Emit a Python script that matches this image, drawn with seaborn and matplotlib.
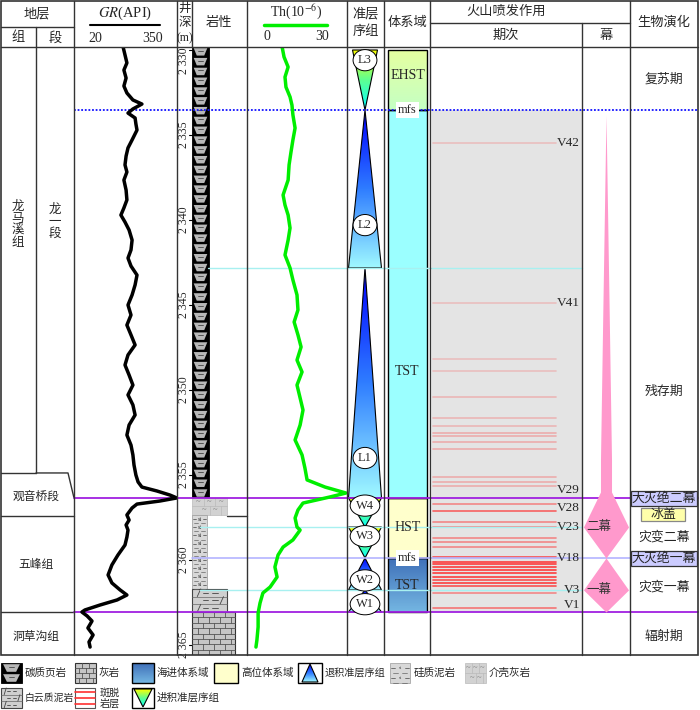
import numpy as np
import matplotlib
matplotlib.use("Agg")
import matplotlib.pyplot as plt
import seaborn as sns
from matplotlib.patches import Polygon, Rectangle
from matplotlib.colors import LinearSegmentedColormap

# ---------------- data ----------------
gr_depth = [2329.82, 2330.29, 2330.76, 2331.18, 2331.65, 2332.12, 2332.53, 2332.94, 2333.18, 2333.47,
            2333.71, 2334.00, 2334.35, 2334.71, 2335.29, 2335.76, 2336.24, 2336.76, 2337.18, 2337.65,
            2338.24, 2338.82, 2339.29, 2339.71, 2340.12, 2340.59, 2341.18, 2341.76, 2342.24, 2342.71,
            2343.24, 2343.82, 2344.41, 2345.00, 2345.59, 2346.18, 2346.76, 2347.35, 2347.94, 2348.53,
            2349.12, 2349.71, 2350.29, 2350.88, 2351.47, 2352.06, 2352.65, 2353.24, 2353.82, 2354.41,
            2355.00, 2355.41, 2355.71, 2355.94, 2356.18, 2356.35, 2356.53, 2356.71, 2356.94, 2357.35,
            2357.65, 2357.94, 2358.24, 2358.65, 2359.12, 2359.71, 2360.29, 2360.88, 2361.35, 2361.76,
            2362.06, 2362.35, 2362.65, 2362.94, 2363.06, 2363.29, 2363.59, 2364.00, 2364.41, 2364.82,
            2365.12]
gr_api = [178, 185, 192, 181, 189, 181, 192, 214, 247, 214,
          196, 222, 225, 229, 211, 196, 189, 185, 192, 181,
          189, 192, 181, 170, 185, 200, 211, 207, 196, 207,
          229, 222, 211, 196, 207, 192, 207, 222, 196, 185,
          200, 214, 196, 214, 222, 200, 192, 207, 214, 218,
          225, 233, 247, 302, 350, 375, 313, 229, 211, 192,
          200, 189, 196, 192, 185, 159, 137, 123, 137, 167,
          192, 156, 93, 38, 27, 46, 64, 49, 68, 53,
          57]

th_depth = [2329.82, 2330.41, 2331.00, 2331.59, 2332.18, 2332.76, 2333.24, 2333.82, 2334.59, 2335.29,
            2336.00, 2336.76, 2337.65, 2338.53, 2339.12, 2339.71, 2340.47, 2341.18, 2342.06, 2342.82,
            2343.53, 2344.41, 2345.29, 2346.00, 2346.76, 2347.47, 2348.24, 2348.94, 2349.71, 2350.47,
            2351.18, 2352.06, 2352.94, 2353.82, 2354.59, 2355.29, 2355.71, 2356.06, 2356.29, 2356.65,
            2357.06, 2357.53, 2358.06, 2358.24, 2358.82, 2359.24, 2359.71, 2360.41, 2361.00, 2361.59,
            2361.94, 2362.53, 2363.12, 2363.94, 2364.71, 2365.12]
th_ppm = [11.3, 12.1, 13.8, 12.5, 12.9, 14.6, 15.4, 15.8, 16.7, 15.8,
          15.0, 14.2, 13.8, 11.7, 12.5, 13.8, 14.6, 13.8, 12.5, 14.6,
          15.8, 17.5, 17.9, 16.3, 17.9, 19.2, 17.5, 19.6, 17.5, 18.8,
          20.0, 18.8, 16.7, 19.6, 20.8, 21.7, 29.2, 37.9, 31.3, 20.0,
          17.9, 16.7, 17.5, 18.8, 15.8, 11.7, 9.6, 8.3, 9.2, 6.3,
          3.3, 2.1, 1.3, 1.3, 0.8, 0.4]

depth_ticks = [2330, 2335, 2340, 2345, 2350, 2355, 2360, 2365]

# surfaces (m)
mfs_upper = 2333.53
cyan_surfaces = [2342.82, 2358.06, 2361.76]
purple_surfaces = [2356.35, 2363.06]
mfs_lower = 2359.88

# strata units
unit_names = ['观音桥段', '五峰组', '洞草沟组']
unit_label_depth = [2356.29, 2360.29, 2364.53]
lmx_base = 2354.88
gyq_base = 2357.41
wf_base = 2363.06

# lithology intervals
lith_names = ['碳质页岩', '介壳灰岩', '硅质泥岩', '白云质泥岩', '灰岩']
lith_top = [2329.82, 2356.35, 2357.35, 2361.70, 2363.06]
lith_base = [2356.35, 2357.35, 2361.70, 2363.06, 2365.59]

# parasequence sets
seq_names = ['L3', 'L2', 'L1', 'W4', 'W3', 'W2', 'W1']
seq_top = [2330.00, 2333.53, 2342.82, 2356.35, 2358.06, 2359.88, 2361.76]
seq_base = [2333.53, 2342.82, 2356.35, 2358.06, 2359.88, 2361.76, 2363.06]
seq_kind = ['pro', 'retro', 'retro', 'pro', 'pro', 'retro', 'retro']
seq_label_depth = [2330.60, 2340.30, 2354.00, 2356.80, 2358.60, 2361.20, 2362.60]

# systems tracts
st_names = ['EHST', 'TST', 'HST', 'TST']
st_top = [2330.00, 2333.53, 2356.35, 2359.88]
st_base = [2333.53, 2356.35, 2359.88, 2363.06]
st_label_depth = [2331.50, 2348.94, 2358.06, 2361.50]

# volcanic ash (bentonite) beds
ash_depth = [2335.47, 2344.88, 2348.18, 2348.88, 2350.41, 2351.65, 2352.12, 2352.53, 2352.71, 2353.06,
             2353.47, 2355.12, 2355.41, 2355.65, 2356.71, 2357.12, 2357.76, 2358.06, 2358.71, 2358.94,
             2359.24, 2359.82, 2360.12, 2360.24, 2360.41, 2360.59, 2360.76, 2361.00, 2361.18, 2361.35,
             2361.53, 2361.94, 2362.82]
ash_int = [0.2, 0.2, 0.2, 0.2, 0.25, 0.25, 0.25, 0.3, 0.3, 0.3,
           0.3, 0.3, 0.3, 0.3, 0.5, 0.7, 0.5, 0.5, 0.5, 0.5,
           0.5, 0.8, 0.9, 0.9, 0.9, 0.9, 0.9, 0.9, 0.8, 0.9,
           0.8, 0.5, 0.6]
v_names = ['V42', 'V41', 'V29', 'V28', 'V23', 'V18', 'V3', 'V1']
v_depth = [2335.47, 2344.88, 2355.88, 2356.94, 2358.06, 2359.88, 2361.76, 2362.65]

# eruption pulses (relative intensity)
pulse_depth = [2333.82, 2344.71, 2354.12, 2356.00, 2358.06, 2359.88, 2361.76, 2363.06]
pulse_half = [0.0, 0.125, 0.23, 0.23, 0.94, 0.0, 0.94, 0.0]
pulse_names = ['二幕', '一幕']
pulse_label_depth = [2358.06, 2361.76]

# biotic evolution
bio_names = ['复苏期', '残存期', '灾变二幕', '灾变一幕', '辐射期']
bio_depth = [2331.76, 2350.12, 2358.65, 2361.59, 2364.53]
event_names = ['大灭绝二幕', '冰盖', '大灭绝一幕']
event_top = [2355.94, 2356.94, 2359.47]
event_base = [2356.82, 2357.71, 2360.35]
event_color = ['#ccccff', '#ffffaa', '#ccccff']

# ---------------- figure ----------------
sns.set_theme(style="white")
plt.rcParams['font.family'] = ['Liberation Serif', 'Noto Sans CJK SC']
plt.rcParams['mathtext.fontset'] = 'stix'

W, H = 700, 710
D_TOP, D_BOT = 2329.824, 2365.588
U = 1 / 17.0   # metres per pixel
fig = plt.figure(figsize=(7, 7.1), dpi=100)


def col_axes(x0, x1, z):
    ax = fig.add_axes([x0 / W, 1 - 655 / H, (x1 - x0) / W, 608 / H])
    ax.set_ylim(D_BOT, D_TOP)
    ax.axis('off')
    ax.set_zorder(z)
    return ax


body = col_axes(0, 700, 1)
ax_gr = col_axes(74, 177, 3)
ax_th = col_axes(247, 347, 3)
ax_pu = col_axes(582, 630, 2)
top = fig.add_axes([0, 0, 1, 1])
top.axis('off')
top.set_zorder(4)

PURPLE = '#a020e0'
CYAN = '#a8f0f0'


def grad_poly(ax, verts, colors, z=2, ec='black', lw=0.8):
    poly = Polygon(verts, closed=True, fc='none', ec=ec, lw=lw, zorder=z + 0.1)
    ax.add_patch(poly)
    xs = [v[0] for v in verts]
    ys = [v[1] for v in verts]
    cmap = LinearSegmentedColormap.from_list('g', colors)
    im = ax.imshow(np.linspace(0, 1, 120).reshape(-1, 1), cmap=cmap, aspect='auto', origin='upper',
                   extent=(min(xs), max(xs), max(ys), min(ys)), zorder=z, interpolation='bilinear')
    im.set_clip_path(poly)


def shale(ax, x0, x1, y0, y1, u):
    ax.add_patch(Rectangle((x0, y0), x1 - x0, y1 - y0, fc='black', ec='black', lw=0.6, zorder=2))
    n = max(1, round((y1 - y0) / (9.7 * u)))
    st = (y1 - y0) / n
    w = x1 - x0
    cx = (x0 + x1) / 2
    for i in range(n):
        t = y0 + i * st
        ax.add_patch(Polygon([(cx - 0.40 * w, t + 0.12 * st), (cx + 0.40 * w, t + 0.12 * st),
                              (cx + 0.22 * w, t + 0.88 * st), (cx - 0.22 * w, t + 0.88 * st)],
                             closed=True, fc='#b8b8b8', ec='none', zorder=2.1))
        ax.plot([cx - 0.13 * w, cx + 0.13 * w], [t + 0.40 * st] * 2, color='#444', lw=0.6, zorder=2.2)


def bricks(ax, x0, x1, y0, y1, u, bw=11):
    ax.add_patch(Rectangle((x0, y0), x1 - x0, y1 - y0, fc='#c6c6c6', ec='#333', lw=0.8, zorder=2))
    n = max(1, round((y1 - y0) / (5.6 * u)))
    st = (y1 - y0) / n
    for i in range(1, n):
        ax.plot([x0, x1], [y0 + i * st] * 2, color='#555', lw=0.6, zorder=2.1)
    for i in range(n):
        x = x0 + (bw / 2 if i % 2 else bw)
        while x < x1 - 1:
            ax.plot([x, x], [y0 + i * st, y0 + (i + 1) * st], color='#555', lw=0.6, zorder=2.1)
            x += bw


def siliceous(ax, x0, x1, y0, y1, u, fs=4.5, rows=8.6):
    ax.add_patch(Rectangle((x0, y0), x1 - x0, y1 - y0, fc='#d8d8d8', ec='#999', lw=0.5, zorder=2))
    n = max(1, round((y1 - y0) / (rows * u)))
    st = (y1 - y0) / n
    cx = (x0 + x1) / 2
    w = x1 - x0
    for i in range(n):
        yc = y0 + (i + 0.5) * st
        ax.text(cx, yc, 'si', fontsize=fs, ha='center', va='center', color='#333', zorder=2.2)
        ax.plot([x0 + 0.05 * w, x0 + 0.25 * w], [yc] * 2, color='#444', lw=0.5, zorder=2.1)
        ax.plot([x1 - 0.25 * w, x1 - 0.05 * w], [yc] * 2, color='#444', lw=0.5, zorder=2.1)
        yb = y0 + (i + 1) * st
        ax.plot([x0 + 0.15 * w, x0 + 0.4 * w], [yb] * 2, color='#666', lw=0.5, zorder=2.1)
        ax.plot([x1 - 0.4 * w, x1 - 0.15 * w], [yb] * 2, color='#666', lw=0.5, zorder=2.1)


def shelly(ax, x0, x1, y0, y1, u, fs=6):
    ax.add_patch(Rectangle((x0, y0), x1 - x0, y1 - y0, fc='#d2d2d2', ec='#bbb', lw=0.5, zorder=2))
    n = 2
    st = (y1 - y0) / n
    cw = (x1 - x0) / 3
    ax.plot([x0, x1], [y0 + st] * 2, color='#bbb', lw=0.5, zorder=2.1)
    for i in range(n):
        for j in range(3):
            xc = x0 + (j + 0.5) * cw + (cw / 2 if i % 2 else 0)
            if xc < x1:
                ax.text(xc, y0 + (i + 0.5) * st, '~', fontsize=fs, ha='center', va='center',
                        color='#777', zorder=2.2)
            xl = x0 + (j + 1) * cw + (cw / 2 if i % 2 else 0)
            if xl < x1:
                ax.plot([xl, xl], [y0 + i * st, y0 + (i + 1) * st], color='#bbb', lw=0.5, zorder=2.1)


def dolomitic(ax, x0, x1, y0, y1, u):
    ax.add_patch(Rectangle((x0, y0), x1 - x0, y1 - y0, fc='#cfcfcf', ec='#444', lw=0.8, zorder=2))
    n = max(1, round((y1 - y0) / (7.8 * u)))
    st = (y1 - y0) / n
    w = x1 - x0
    for i in range(n):
        yc = y0 + (i + 0.5) * st
        if i:
            ax.plot([x0, x1], [y0 + i * st] * 2, color='#666', lw=0.5, zorder=2.1)
        for a, b in [(0.30, 0.45), (0.58, 0.73)]:
            ax.plot([x0 + a * w, x0 + b * w], [yc] * 2, color='#444', lw=0.6, zorder=2.1)
        sx = x0 + (0.2 if i % 2 == 0 else 0.85) * w
        ax.plot([sx - 0.05 * w, sx + 0.05 * w], [y0 + (i + 1) * st, y0 + i * st], color='#444',
                lw=0.6, zorder=2.1)


RETRO = ['#0000ff', '#2f7dff', '#9ff8ff']
PRO = ['#ffff00', '#60ff90', '#00ffff']

# ---------------- curves ----------------
sns.lineplot(x=gr_api, y=gr_depth, sort=False, estimator=None, color='black', lw=2.5, ax=ax_gr)
ax_gr.set_xlim(-2, 375.7)
sns.lineplot(x=th_ppm, y=th_depth, sort=False, estimator=None, color='#00ee00', lw=2.5, ax=ax_th)
ax_th.set_xlim(-3.33, 38.33)
for a in (ax_gr, ax_th):
    a.set_ylim(D_BOT, D_TOP)
    a.axis('off')

# ---------------- surfaces ----------------
body.plot([74, 698], [mfs_upper] * 2, color='#1010ff', lw=1.3, ls=(0, (1, 1)), zorder=5)
body.plot([208, 582], [cyan_surfaces[0]] * 2, color=CYAN, lw=1, zorder=5)
for d in cyan_surfaces[1:]:
    body.plot([200, 582], [d] * 2, color=CYAN, lw=1, zorder=5)
body.plot([192, 698], [mfs_lower] * 2, color='#b4b4ff', lw=1.2, zorder=5)
for d in purple_surfaces:
    body.plot([74, 698], [d] * 2, color=PURPLE, lw=1.3, zorder=5)

# strata boundaries
body.plot([1, 36], [lmx_base] * 2, color='#333', lw=1)
body.plot([36, 68, 74], [lmx_base, lmx_base, purple_surfaces[0]], color='#333', lw=1)
body.plot([1, 74], [gyq_base] * 2, color='#333', lw=1)
body.plot([227, 247], [gyq_base] * 2, color='#333', lw=1)
body.plot([1, 74], [wf_base] * 2, color='#333', lw=1)
body.text(18, 2340.29, '龙\n马\n溪\n组', fontsize=9, ha='center', va='center', linespacing=1.0)
body.text(55, 2340.12, '龙\n一\n段', fontsize=9, ha='center', va='center', linespacing=1.0)
for n, d in zip(unit_names, unit_label_depth):
    body.text(36, d, n, fontsize=8.5, ha='center', va='center')

# depth scale
for d in depth_ticks:
    yl = d if d > 2330 else d + 0.65
    body.text(184, yl, f'{d // 1000} {d % 1000:03d}', rotation=90, fontsize=8.5, ha='center',
              va='center')
    body.plot([189, 192], [d, d], color='black', lw=0.8)

# lithology
shale(body, 192, 209, lith_top[0], lith_base[0], U)
shelly(body, 192, 227, lith_top[1], lith_base[1], U)
siliceous(body, 192, 207, lith_top[2], lith_base[2], U)
dolomitic(body, 192, 227, lith_top[3], lith_base[3], U)
bricks(body, 192, 235, lith_top[4], lith_base[4], U)

# parasequence sets
for name, t, b, k, ld in zip(seq_names, seq_top, seq_base, seq_kind, seq_label_depth):
    hw = 12.5 if name == 'L3' else 16.5
    cx = 365
    if k == 'retro':
        verts = [(cx, t), (cx + hw, b), (cx - hw, b)]
        grad_poly(body, verts, RETRO, z=3)
    else:
        verts = [(cx - hw, t), (cx + hw, t), (cx, b)]
        grad_poly(body, verts, PRO, z=3)
    body.text(cx, ld, name, fontsize=9, ha='center', va='center', zorder=6,
              bbox=dict(boxstyle='ellipse,pad=0.12', fc='white', ec='black', lw=0.7))

# systems tracts
st_cols = [['#e6ffa0', '#c4ffc4'], ['#9bffff', '#9bffff'], ['#ffffcc', '#ffffcc'], ['#3f6fb8', '#74b6e2']]
for n, t, b, c, ld in zip(st_names, st_top, st_base, st_cols, st_label_depth):
    grad_poly(body, [(388, t), (427, t), (427, b), (388, b)], c, z=3, lw=1)
    body.text(407.5, ld, n, fontsize=10, ha='center', va='center', zorder=6)
for d in (mfs_upper, mfs_lower):
    body.text(407.5, d, 'mfs', fontsize=9, ha='center', va='center', zorder=7,
              bbox=dict(boxstyle='square,pad=0.15', fc='white', ec='none'))

# volcanic stages
body.add_patch(Rectangle((432, mfs_upper), 150, wf_base - mfs_upper, fc='#e4e4e4', ec='none', zorder=1))
for d, a in zip(ash_depth, ash_int):
    body.plot([433, 556], [d, d], color='#ff2a2a', alpha=a, lw=1.2, zorder=2)
for n, d in zip(v_names, v_depth):
    body.text(580, d, n, fontsize=9.5, ha='right', va='center', zorder=6)

# eruption pulses
ax_pu.fill_betweenx(pulse_depth, [-w for w in pulse_half], pulse_half, color='#ff99cc', lw=0)
ax_pu.set_xlim(-1, 1)
ax_pu.set_ylim(D_BOT, D_TOP)
for n, d in zip(pulse_names, pulse_label_depth):
    ax_pu.text(-0.3, d, n, fontsize=9, ha='center', va='center', color='#333')

# biotic evolution
for n, d in zip(bio_names, bio_depth):
    body.text(664, d, n, fontsize=9.3, ha='center', va='center')
event_x = [(631, 697), (641, 685), (631, 697)]
for n, t, b, c, (x0, x1) in zip(event_names, event_top, event_base, event_color, event_x):
    body.add_patch(Rectangle((x0, t), x1 - x0, b - t, fc=c, ec='#333' if c == '#ccccff' else '#888',
                             lw=0.9, zorder=6))
    body.text((x0 + x1) / 2, (t + b) / 2, n, fontsize=9.3, ha='center', va='center', zorder=7)

body.set_xlim(0, 700)
body.set_ylim(D_BOT, D_TOP)

# ---------------- table grid and headers ----------------
GC = '#333333'
top.add_patch(Rectangle((1, 1), 697, 654, fc='none', ec=GC, lw=1.2))
top.plot([1, 698], [47, 47], color=GC, lw=1)
top.plot([1, 74], [27, 27], color=GC, lw=1)
top.plot([430, 630], [23, 23], color=GC, lw=1)
for x in (74, 177, 247, 347, 384, 430, 630):
    top.plot([x, x], [1, 655], color=GC, lw=1)
top.plot([192, 192], [1, 47], color=GC, lw=1)
top.plot([36, 36], [27, 473], color=GC, lw=1)
top.plot([582, 582], [23, 655], color=GC, lw=1)

hs = 9.5
top.text(37, 14, '地层', fontsize=hs, ha='center', va='center')
top.text(18, 38, '组', fontsize=hs, ha='center', va='center')
top.text(55, 38, '段', fontsize=hs, ha='center', va='center')
top.text(125, 13, r'$\mathit{GR}$(API)', fontsize=10.5, ha='center', va='center')
top.plot([90, 160], [25, 25], color='black', lw=1.5)
top.text(95, 38, '20', fontsize=10, ha='center', va='center')
top.text(153, 38, '350', fontsize=10, ha='center', va='center')
top.text(184.5, 9, '井', fontsize=9, ha='center', va='center')
top.text(184.5, 23, '深', fontsize=9, ha='center', va='center')
top.text(184.5, 38, '(m)', fontsize=8.5, ha='center', va='center')
top.text(219, 23, '岩性', fontsize=hs, ha='center', va='center')
top.text(296, 12, r'Th(10$^{-6}$)', fontsize=10, ha='center', va='center')
top.plot([264, 327], [25, 25], color='#00ee00', lw=2.5)
top.text(267, 37, '0', fontsize=10, ha='center', va='center')
top.text(322, 37, '30', fontsize=10, ha='center', va='center')
top.text(365.5, 14, '准层', fontsize=hs, ha='center', va='center')
top.text(365.5, 32, '序组', fontsize=hs, ha='center', va='center')
top.text(407, 23, '体系域', fontsize=hs, ha='center', va='center')
top.text(506, 12, '火山喷发作用', fontsize=hs, ha='center', va='center')
top.text(506, 36, '期次', fontsize=hs, ha='center', va='center')
top.text(606, 36, '幕', fontsize=hs, ha='center', va='center')
top.text(664, 23, '生物演化', fontsize=hs, ha='center', va='center')

# ---------------- legend ----------------
ls = 7.6
r1, r2 = (663, 683), (688, 708)
shale(top, 1, 22, r1[0], r1[1], 1)
top.text(25, 673, '碳质页岩', fontsize=ls, va='center')
bricks(top, 75, 96, r1[0], r1[1], 1, bw=7)
top.text(99, 673, '灰岩', fontsize=ls, va='center')
grad_poly(top, [(132, 663), (154, 663), (154, 683), (132, 683)], ['#3f6fb8', '#74b6e2'], z=2, lw=1)
top.text(157, 673, '海进体系域', fontsize=ls, va='center')
top.add_patch(Rectangle((214, 663), 24, 20, fc='#ffffcc', ec='black', lw=1))
top.text(241, 673, '高位体系域', fontsize=ls, va='center')
top.add_patch(Rectangle((298, 663), 24, 20, fc='white', ec='black', lw=1))
grad_poly(top, [(310, 664), (318, 682), (302, 682)], RETRO, z=3)
top.text(325, 673, '退积准层序组', fontsize=7.3, va='center')
siliceous(top, 390, 410, r1[0], r1[1], 1, fs=3.5, rows=10)
top.text(414, 673, '硅质泥岩', fontsize=ls, va='center')
shelly(top, 465, 486, r1[0], r1[1], 1, fs=6)
top.text(489, 673, '介壳灰岩', fontsize=ls, va='center')
dolomitic(top, 1, 22, r2[0], r2[1], 1)
top.text(25, 698, '白云质泥岩', fontsize=7.1, va='center')
top.add_patch(Rectangle((75, 688), 20, 20, fc='white', ec='#555', lw=0.8))
for yy in (692, 698, 704):
    top.plot([75, 95], [yy, yy], color='#ff3030', lw=1.2)
top.text(100, 698, '斑脱\n岩层', fontsize=7.3, va='center', linespacing=1.05)
top.add_patch(Rectangle((132, 688), 22, 20, fc='white', ec='black', lw=1))
grad_poly(top, [(134, 689), (152, 689), (143, 707)], PRO, z=3)
top.text(157, 698, '进积准层序组', fontsize=ls, va='center')

top.set_xlim(0, 700)
top.set_ylim(710, 0)

fig.savefig('out.png', dpi=100, facecolor='white')
